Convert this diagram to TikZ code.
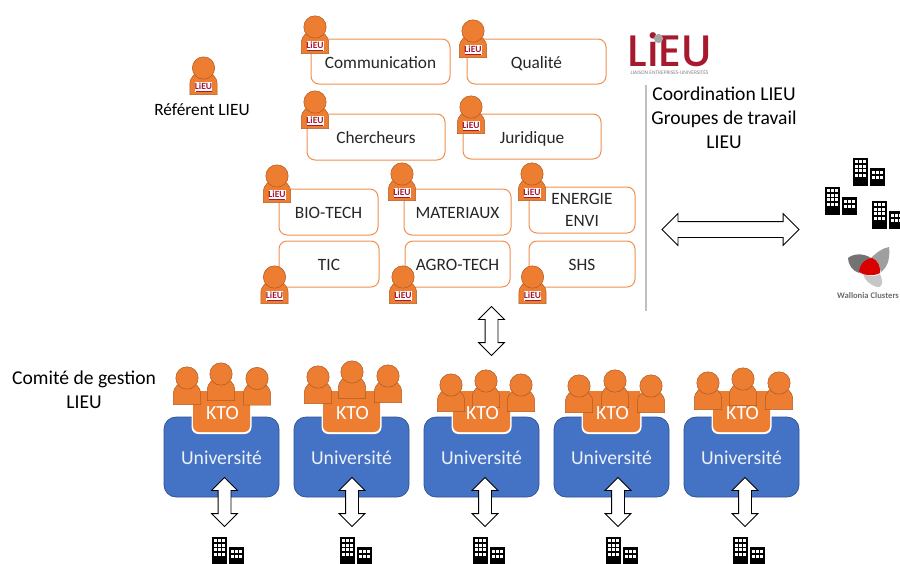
\documentclass[tikz,border=0pt]{standalone}
\usepackage{fontspec}
\setmainfont{Carlito}
\newfontfamily\logofont{Poppins Medium}
\usetikzlibrary{shapes.arrows}
\definecolor{orng}{HTML}{ED7D31}
\definecolor{orngd}{HTML}{AE5A21}
\definecolor{blu}{HTML}{4472C4}
\definecolor{blud}{HTML}{2F528F}
\definecolor{lieured}{HTML}{A6192E}
\definecolor{txt}{HTML}{262626}
\tikzset{
 gbox/.style={draw=orng!85,line width=1pt,fill=white,rounded corners=8pt,inner sep=0pt,text=txt,align=center,font=\fontsize{17.3}{22}\selectfont},
 lab/.style={inner sep=0pt,text=black,align=center,font=\fontsize{19.6}{24}\selectfont},
 univ/.style={draw=blud,line width=.7pt,fill=blu,rounded corners=12pt,minimum width=115pt,minimum height=80pt,inner sep=0pt},
 univt/.style={inner sep=0pt,text=white!90!blu,font=\fontsize{19.7}{22}\selectfont},
 ktot/.style={inner sep=0pt,text=white,font=\fontsize{20}{22}\selectfont},
 darrow/.style={shape=double arrow,draw=black,line width=.8pt,fill=white,double arrow head indent=0pt,inner sep=6pt},
}
% head-centre x,y
\newcommand{\personicon}[2]{%
 \path[fill=orng,draw=orngd,line width=.5pt] (#1-13.7,#2+26.5) -- (#1-13.7,#2+17) .. controls (#1-13.7,#2+8) and (#1-8,#2+4) .. (#1,#2+4) .. controls (#1+8,#2+4) and (#1+13.7,#2+8) .. (#1+13.7,#2+17) -- (#1+13.7,#2+26.5) -- cycle;
 \path[fill=orng,draw=orngd,line width=.5pt] (#1,#2) circle (11.2);
}
\newcommand{\badged}[2]{%
 \personicon{#1}{#2}
 \path[fill=white] (#1-8.5,#2+14) rectangle (#1+8.5,#2+24);
 \node[inner sep=0pt,text=lieured,font=\fontsize{9.5}{10}\bfseries\selectfont] at (#1,#2+18.6) {LiEU};
 \path[fill=lieured] (#1-8,#2+22.6) rectangle (#1+8,#2+23.6);
}
\newcommand{\building}[2]{% top-left x,y
 \path[fill=black] (#1,#2) rectangle (#1+15,#2+28);
 \path[fill=black] (#1+17,#2+10) rectangle (#1+32,#2+28);
 \foreach \i in {0,1,2} \foreach \j in {0,1,2,3} \path[fill=white] (#1+1.8+\i*4.1,#2+2+\j*4.6) rectangle +(3,3.1);
 \foreach \i in {0,1,2} \foreach \j in {0,1} \path[fill=white] (#1+18.8+\i*4.2,#2+13+\j*4.6) rectangle +(3,3);
}
\begin{document}
\begin{tikzpicture}[x=1pt,y=-1pt]
\useasboundingbox (0,0) rectangle (900,563);
% working-group boxes
\node[gbox,minimum width=139pt,minimum height=45pt,text height=15pt,text depth=2pt] (comm) at (380.5,61.5) {Communication};
\node[gbox,minimum width=139pt,minimum height=45pt,text height=15pt,text depth=2pt] (qual) at (536.5,61.5) {Qualité};
\node[gbox,minimum width=138pt,minimum height=46pt,text height=15pt,text depth=2pt] (cher) at (376,137) {Chercheurs};
\node[gbox,minimum width=138pt,minimum height=45pt,text height=15pt,text depth=2pt] (jur) at (532,136.5) {Juridique};
\node[gbox,minimum width=99pt,minimum height=46pt,text height=15pt,text depth=2pt] (bio) at (328.5,212) {BIO-TECH};
\node[gbox,minimum width=107pt,minimum height=46pt,text height=15pt,text depth=2pt] (mat) at (457.5,212) {MATERIAUX};
\node[gbox,minimum width=106pt,minimum height=46pt] (ene) at (582,210) {ENERGIE\\ENVI};
\node[gbox,minimum width=100pt,minimum height=46pt,text height=15pt,text depth=2pt] (tic) at (329,264) {TIC};
\node[gbox,minimum width=105pt,minimum height=46pt,text height=15pt,text depth=2pt] (agr) at (457.5,264) {AGRO-TECH};
\node[gbox,minimum width=106pt,minimum height=46pt,text height=15pt,text depth=2pt] (shs) at (582,264) {SHS};
% badged people
\badged{315}{27}
\badged{473}{31}
\badged{203.5}{68}
\badged{315}{102}
\badged{471}{107}
\badged{277}{176}
\badged{402}{174}
\badged{532}{174}
\badged{274.5}{277}
\badged{403}{277}
\badged{532.5}{277}
% labels
\node[lab] (ref) at (202,110) {\fontsize{17.3}{20}\selectfont Référent LIEU};
\node[lab,anchor=north] (coord) at (724,87) {Coordination LIEU\\Groupes de travail\\LIEU};
\node[lab] (comite) at (84,390) {Comité de gestion\\LIEU};
% logo
\node[inner sep=0pt,text=lieured,font=\logofont\fontsize{44}{44}\selectfont] (logo) at (670,49.5) {LiEU};
\path[fill=gray!70] (658.5,38.5) circle (4.6);
\node[inner sep=0pt,text=gray,font=\fontsize{5.4}{6}\selectfont] (logosub) at (669.5,72) {LIAISON ENTREPRISES-UNIVERSITÉS};
% rule
\coordinate (ra) at (646,85);
\coordinate (rb) at (646,311);
\draw[draw=gray!50,line width=1.2pt] (ra) -- (rb);
% big arrows
\node[darrow,inner sep=7.5pt,minimum width=31pt,minimum height=137pt,double arrow head extend=8pt] (ah) at (730.5,229.5) {};
\node[darrow,rotate=90,minimum width=25pt,minimum height=49pt,double arrow head extend=6.5pt] (am) at (491.5,331) {};
% companies top right
\building{853}{158}
\building{825}{187}
\building{872}{201}
% Wallonia Clusters
\path[fill=gray!90!black] (848,258) .. controls (855,252) and (868,254) .. (873,260) .. controls (866,261) and (861,266) .. (859,273) .. controls (853,271) and (848,265) .. (848,258) -- cycle;
\path[fill=gray!75] (889,247) .. controls (890,256) and (889,266) .. (881,272) .. controls (880,266) and (876,260) .. (871,258) .. controls (877,252) and (883,248) .. (889,247) -- cycle;
\path[fill=gray!45] (863,273) .. controls (868,277) and (875,277) .. (880,274) .. controls (885,285) and (880,288) .. (877,287) .. controls (870,285) and (864,280) .. (863,273) -- cycle;
\path[fill=red!85!black] (859,272) .. controls (860,262) and (868,258) .. (872,258) .. controls (878,260) and (881,268) .. (880,273) .. controls (875,276) and (865,276) .. (859,272) -- cycle;
\node[inner sep=0pt,text=gray!85!black,font=\fontsize{8.6}{9}\bfseries\selectfont] (wc) at (868,296) {Wallonia Clusters};
% universities
\foreach \n/\x/\ba/\bb/\bc/\ca/\cb/\cc/\ax/\bx in {
  a/221.5/187/221/257/378/374/378.5/224.5/212,
  b/351.5/318/352/388/377/372/376/352/340,
  c/481.5/451/486/521/385/381/385/485/473,
  d/611.5/579/615/651/386/381/386/618/606,
  e/741.5/708/743/779/383/379/383/745/733}{
  \node[univ] (u\n) at (\x,457) {};
  \path[fill=white] (\x-30,391) -- (\x+30,391) -- (\x+30,427) arc[start angle=0,end angle=90,radius=7] -- (\x-23,434) arc[start angle=90,end angle=180,radius=7] -- cycle;
  \path[fill=orng] (\x-28.5,391) -- (\x+28.5,391) -- (\x+28.5,426) arc[start angle=0,end angle=90,radius=6] -- (\x-22.5,432) arc[start angle=90,end angle=180,radius=6] -- cycle;
  \personicon{\bb}{\cb}
  \personicon{\ba}{\ca}
  \personicon{\bc}{\cc}
  \node[ktot] (k\n) at (\x+1,413.5) {KTO};
  \node[univt] (t\n) at (\x,457.5) {Université};
  \node[darrow,rotate=90,minimum width=25pt,minimum height=49pt,double arrow head extend=6.5pt] (a\n) at (\ax,502) {};
  \building{\bx+0}{537}
}
\end{tikzpicture}
\end{document}
